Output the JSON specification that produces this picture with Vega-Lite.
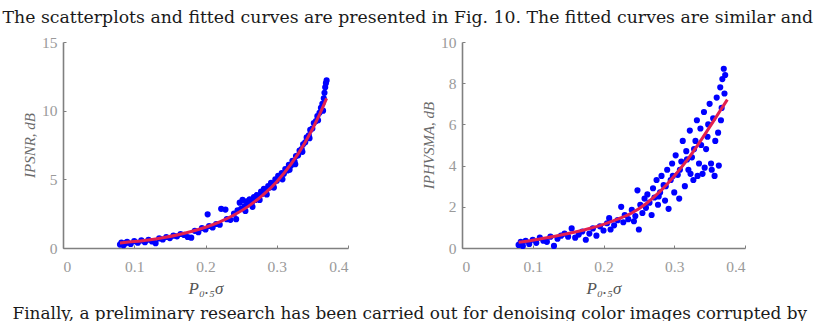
{
  "$schema": "https://vega.github.io/schema/vega-lite/v6.json",
  "padding": {"left": 2, "top": 8, "right": 0, "bottom": 0},
  "background": "white",
  "title": {"text": "The scatterplots and fitted curves are presented in Fig. 10. The fitted curves are similar and", "anchor": "start", "font": "DejaVu Serif", "fontSize": 17.3, "fontWeight": "normal", "color": "#1a1a1a", "baseline": "alphabetic", "offset": -5, "dx": -10},
  "datasets": {
    "ipsnr": [
      {"p":0.080,"v":0.25},{"p":0.082,"v":0.40},{"p":0.085,"v":0.20},{"p":0.088,"v":0.35},{"p":0.090,"v":0.45},{"p":0.095,"v":0.30},{"p":0.100,"v":0.50},{"p":0.105,"v":0.38},{"p":0.110,"v":0.55},{"p":0.115,"v":0.42},{"p":0.120,"v":0.60},{"p":0.125,"v":0.48},{"p":0.130,"v":0.35},{"p":0.135,"v":0.70},{"p":0.140,"v":0.62},{"p":0.145,"v":0.80},{"p":0.150,"v":0.72},{"p":0.155,"v":0.90},{"p":0.160,"v":0.85},{"p":0.165,"v":1.02},{"p":0.170,"v":0.95},{"p":0.175,"v":0.80},{"p":0.180,"v":0.75},{"p":0.185,"v":1.25},{"p":0.190,"v":1.15},{"p":0.195,"v":1.45},{"p":0.200,"v":1.35},{"p":0.203,"v":2.45},{"p":0.205,"v":1.60},{"p":0.210,"v":1.50},{"p":0.215,"v":1.75},{"p":0.220,"v":1.70},{"p":0.222,"v":2.85},{"p":0.228,"v":2.80},{"p":0.230,"v":2.10},{"p":0.235,"v":2.05},{"p":0.240,"v":2.50},{"p":0.243,"v":2.10},{"p":0.245,"v":2.75},{"p":0.248,"v":3.30},{"p":0.250,"v":2.85},{"p":0.252,"v":3.50},{"p":0.255,"v":3.05},{"p":0.258,"v":3.40},{"p":0.260,"v":3.20},{"p":0.262,"v":3.55},{"p":0.265,"v":3.30},{"p":0.268,"v":3.70},{"p":0.270,"v":3.50},{"p":0.272,"v":3.85},{"p":0.275,"v":3.75},{"p":0.278,"v":4.10},{"p":0.280,"v":3.95},{"p":0.282,"v":4.30},{"p":0.285,"v":4.15},{"p":0.288,"v":4.50},{"p":0.290,"v":4.40},{"p":0.292,"v":4.75},{"p":0.295,"v":4.60},{"p":0.298,"v":5.00},{"p":0.300,"v":4.90},{"p":0.302,"v":5.25},{"p":0.305,"v":5.10},{"p":0.307,"v":5.45},{"p":0.310,"v":5.40},{"p":0.312,"v":5.75},{"p":0.315,"v":5.65},{"p":0.317,"v":6.05},{"p":0.320,"v":6.00},{"p":0.322,"v":6.35},{"p":0.325,"v":6.30},{"p":0.327,"v":6.70},{"p":0.330,"v":6.75},{"p":0.332,"v":7.10},{"p":0.335,"v":7.20},{"p":0.337,"v":7.55},{"p":0.340,"v":7.70},{"p":0.342,"v":8.05},{"p":0.345,"v":8.20},{"p":0.347,"v":8.60},{"p":0.350,"v":8.70},{"p":0.352,"v":9.10},{"p":0.355,"v":9.25},{"p":0.357,"v":9.60},{"p":0.360,"v":9.85},{"p":0.362,"v":10.2},{"p":0.364,"v":10.5},{"p":0.366,"v":10.9},{"p":0.367,"v":11.3},{"p":0.368,"v":11.7},{"p":0.369,"v":12.0},{"p":0.370,"v":12.2},{"p":0.365,"v":10.0},{"p":0.358,"v":9.3},{"p":0.346,"v":8.0},{"p":0.336,"v":7.0},{"p":0.326,"v":6.1},{"p":0.318,"v":5.7},{"p":0.308,"v":5.0},{"p":0.296,"v":4.4},{"p":0.286,"v":3.9},{"p":0.276,"v":3.5},{"p":0.266,"v":3.0},{"p":0.256,"v":2.7}
    ],
    "ipsnr_fit": [
      {"p":0.08,"v":0.37},{"p":0.10,"v":0.47},{"p":0.12,"v":0.59},{"p":0.14,"v":0.75},{"p":0.16,"v":0.95},{"p":0.18,"v":1.20},{"p":0.20,"v":1.51},{"p":0.22,"v":1.90},{"p":0.24,"v":2.40},{"p":0.26,"v":3.03},{"p":0.28,"v":3.83},{"p":0.30,"v":4.83},{"p":0.32,"v":6.10},{"p":0.34,"v":7.70},{"p":0.36,"v":9.72},{"p":0.37,"v":10.9}
    ],
    "iphv": [
      {"p":0.080,"v":0.15},{"p":0.083,"v":0.30},{"p":0.086,"v":0.10},{"p":0.090,"v":0.35},{"p":0.095,"v":0.20},{"p":0.100,"v":0.40},{"p":0.105,"v":0.25},{"p":0.110,"v":0.50},{"p":0.115,"v":0.35},{"p":0.120,"v":0.30},{"p":0.125,"v":0.55},{"p":0.130,"v":0.10},{"p":0.135,"v":0.45},{"p":0.140,"v":0.60},{"p":0.145,"v":0.70},{"p":0.150,"v":0.55},{"p":0.155,"v":0.95},{"p":0.160,"v":0.50},{"p":0.165,"v":0.65},{"p":0.170,"v":0.80},{"p":0.175,"v":0.40},{"p":0.180,"v":0.70},{"p":0.185,"v":0.95},{"p":0.190,"v":0.60},{"p":0.195,"v":1.05},{"p":0.200,"v":0.85},{"p":0.205,"v":1.20},{"p":0.208,"v":1.45},{"p":0.210,"v":0.90},{"p":0.215,"v":1.10},{"p":0.220,"v":1.35},{"p":0.225,"v":2.00},{"p":0.228,"v":1.25},{"p":0.230,"v":1.60},{"p":0.235,"v":1.40},{"p":0.240,"v":1.85},{"p":0.243,"v":1.30},{"p":0.245,"v":1.55},{"p":0.248,"v":2.80},{"p":0.250,"v":0.90},{"p":0.252,"v":2.10},{"p":0.255,"v":1.70},{"p":0.258,"v":2.40},{"p":0.260,"v":1.95},{"p":0.262,"v":2.60},{"p":0.265,"v":2.20},{"p":0.268,"v":1.60},{"p":0.270,"v":2.90},{"p":0.272,"v":2.45},{"p":0.275,"v":3.30},{"p":0.277,"v":2.10},{"p":0.280,"v":2.70},{"p":0.282,"v":3.50},{"p":0.285,"v":3.05},{"p":0.287,"v":2.30},{"p":0.290,"v":3.80},{"p":0.292,"v":1.90},{"p":0.295,"v":3.30},{"p":0.297,"v":4.10},{"p":0.300,"v":2.70},{"p":0.302,"v":4.50},{"p":0.305,"v":3.55},{"p":0.307,"v":2.40},{"p":0.310,"v":4.20},{"p":0.312,"v":5.20},{"p":0.315,"v":3.00},{"p":0.317,"v":4.70},{"p":0.320,"v":3.80},{"p":0.322,"v":5.70},{"p":0.325,"v":4.40},{"p":0.327,"v":3.30},{"p":0.330,"v":5.20},{"p":0.332,"v":6.20},{"p":0.335,"v":4.10},{"p":0.337,"v":5.80},{"p":0.340,"v":3.60},{"p":0.342,"v":6.60},{"p":0.345,"v":4.80},{"p":0.347,"v":5.40},{"p":0.350,"v":7.00},{"p":0.352,"v":4.10},{"p":0.355,"v":6.30},{"p":0.357,"v":3.50},{"p":0.360,"v":7.30},{"p":0.362,"v":5.60},{"p":0.363,"v":4.00},{"p":0.365,"v":7.80},{"p":0.367,"v":6.80},{"p":0.368,"v":8.20},{"p":0.370,"v":8.70},{"p":0.371,"v":7.50},{"p":0.372,"v":8.40},{"p":0.366,"v":6.20},{"p":0.358,"v":5.20},{"p":0.348,"v":6.00},{"p":0.338,"v":5.00},{"p":0.328,"v":4.80},{"p":0.318,"v":4.30},{"p":0.308,"v":3.80},{"p":0.298,"v":3.50},{"p":0.288,"v":3.00},{"p":0.278,"v":2.50},{"p":0.353,"v":3.80},{"p":0.343,"v":3.90},{"p":0.333,"v":3.50},{"p":0.323,"v":3.60}
    ],
    "iphv_fit": [
      {"p":0.08,"v":0.28},{"p":0.10,"v":0.38},{"p":0.12,"v":0.50},{"p":0.14,"v":0.63},{"p":0.16,"v":0.78},{"p":0.18,"v":0.95},{"p":0.20,"v":1.15},{"p":0.22,"v":1.40},{"p":0.24,"v":1.70},{"p":0.26,"v":2.15},{"p":0.28,"v":2.75},{"p":0.30,"v":3.50},{"p":0.32,"v":4.35},{"p":0.34,"v":5.35},{"p":0.36,"v":6.40},{"p":0.375,"v":7.20}
    ]
  },
  "config": {
    "view": {"stroke": null},
    "font": "Liberation Serif",
    "axis": {"grid": false, "domainColor": "#808080", "domainWidth": 1.6, "tickColor": "#808080", "tickSize": -3, "labelFont": "Liberation Serif", "labelFontSize": 15.5, "labelColor": "#9a9a9a", "titleFont": "Liberation Serif", "titleFontSize": 15, "titleColor": "#6a6a6a", "titleFontWeight": "normal"}
  },
  "vconcat": [
    {
      "title": {"text": "Finally, a preliminary research has been carried out for denoising color images corrupted by", "orient": "bottom", "anchor": "start", "font": "DejaVu Serif", "fontSize": 16.9, "fontWeight": "normal", "color": "#1a1a1a", "baseline": "alphabetic", "offset": 22, "dx": -10},
      "hconcat": [
        {
          "width": 285, "height": 206,
          "layer": [
            {"data": {"name": "ipsnr"}, "mark": {"type": "point", "filled": true, "size": 38, "color": "#0000ff", "opacity": 1},
             "encoding": {
               "x": {"field": "p", "type": "quantitative", "scale": {"domain": [0, 0.4], "nice": false}, "axis": {"values": [0, 0.1, 0.2, 0.3, 0.4], "format": "~g", "title": "P₀.₅σ", "titleFontStyle": "italic", "titleFontSize": 17, "titleColor": "#555555", "labelPadding": 14, "titlePadding": 6}},
               "y": {"field": "v", "type": "quantitative", "scale": {"domain": [0, 15], "nice": false}, "axis": {"values": [0, 5, 10, 15], "title": "IPSNR, dB", "titleFontStyle": "italic", "labelPadding": 9, "titlePadding": 4}}
             }},
            {"data": {"name": "ipsnr_fit"}, "mark": {"type": "line", "color": "#e3204f", "strokeWidth": 3, "interpolate": "monotone"},
             "encoding": {"x": {"field": "p", "type": "quantitative"}, "y": {"field": "v", "type": "quantitative"}}}
          ]
        },
        {
          "width": 283, "height": 206,
          "layer": [
            {"data": {"name": "iphv"}, "mark": {"type": "point", "filled": true, "size": 38, "color": "#0000ff", "opacity": 1},
             "encoding": {
               "x": {"field": "p", "type": "quantitative", "scale": {"domain": [0, 0.4], "nice": false}, "axis": {"values": [0, 0.1, 0.2, 0.3, 0.4], "format": "~g", "title": "P₀.₅σ", "titleFontStyle": "italic", "titleFontSize": 17, "titleColor": "#555555", "labelPadding": 14, "titlePadding": 6}},
               "y": {"field": "v", "type": "quantitative", "scale": {"domain": [0, 10], "nice": false}, "axis": {"values": [0, 2, 4, 6, 8, 10], "title": "IPHVSMA, dB", "titleFontStyle": "italic", "labelPadding": 9, "titlePadding": 4}}
             }},
            {"data": {"name": "iphv_fit"}, "mark": {"type": "line", "color": "#e3204f", "strokeWidth": 3, "interpolate": "monotone"},
             "encoding": {"x": {"field": "p", "type": "quantitative"}, "y": {"field": "v", "type": "quantitative"}}}
          ]
        }
      ],
      "spacing": 72,
      "resolve": {"scale": {"x": "independent", "y": "independent"}}
    }
  ]
}
